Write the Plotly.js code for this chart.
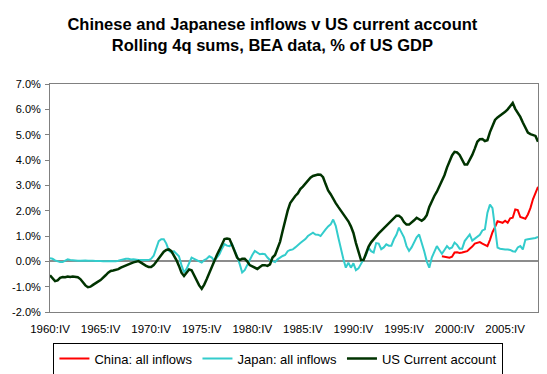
<!DOCTYPE html>
<html>
<head>
<meta charset="utf-8">
<script src="https://cdn.plot.ly/plotly-3.0.1.min.js"></script>
<style>html,body{margin:0;padding:0;background:#fff;}#chart{width:547px;height:374px;}</style>
</head>
<body>
<div id="chart"></div>
<script>
// ---- DATA (% of US GDP) ----
var startYear = 1960, startQuarter = 4;          // first category: 1960:IV
var usCurrentAccount = [
 -0.55,-0.68,-0.78,-0.75,-0.65,-0.62,-0.63,-0.60,-0.62,-0.60,
 -0.62,-0.63,-0.70,-0.82,-0.95,-1.02,-1.00,-0.93,-0.88,-0.80,
 -0.74,-0.66,-0.55,-0.45,-0.38,-0.36,-0.34,-0.31,-0.25,-0.20,
 -0.15,-0.12,-0.08,-0.04,-0.01, 0.01,-0.05,-0.12,-0.18,-0.22,
 -0.22,-0.15,-0.02, 0.08, 0.25, 0.38, 0.45, 0.47, 0.40, 0.25,
  0.05,-0.18,-0.45,-0.58,-0.45,-0.32,-0.35,-0.55,-0.78,-0.95,
 -1.08,-0.92,-0.70,-0.45,-0.25, 0.00, 0.25, 0.45, 0.68, 0.88,
  0.90, 0.88, 0.65, 0.40, 0.15, 0.05, 0.10, 0.10, 0.00,-0.15,
 -0.20,-0.27,-0.30,-0.22,-0.15,-0.15,-0.18,-0.12, 0.15, 0.25,
  0.50, 0.78, 1.20, 1.62, 2.00, 2.30, 2.45, 2.58, 2.68, 2.85,
  2.95, 3.08, 3.20, 3.30, 3.37, 3.40, 3.43, 3.42, 3.32, 3.05,
  2.80, 2.65, 2.45, 2.30, 2.15, 2.00, 1.88, 1.75, 1.58, 1.38,
  1.12, 0.72, 0.35, 0.05, 0.05, 0.30, 0.58, 0.75, 0.88, 0.98,
  1.10, 1.20, 1.30, 1.40, 1.50, 1.60, 1.70, 1.80, 1.80, 1.72,
  1.55, 1.45, 1.45, 1.52, 1.62, 1.72, 1.65, 1.60, 1.68, 1.82,
  2.15, 2.40, 2.58, 2.75, 2.95, 3.15, 3.40, 3.70, 3.95, 4.18,
  4.32, 4.30, 4.20, 4.00, 3.82, 3.82, 4.00, 4.20, 4.45, 4.72,
  4.82, 4.83, 4.75, 4.78, 5.10, 5.35, 5.58, 5.68, 5.75, 5.80,
  5.90, 6.00, 6.12, 6.25, 6.02, 5.88, 5.70, 5.48, 5.28, 5.08,
  5.02, 5.00, 4.95, 4.72
];
var japanInflows = [
  0.12, 0.10, 0.04, 0.00,-0.03,-0.03, 0.02, 0.08, 0.05, 0.03,
  0.03, 0.02, 0.02, 0.03, 0.03, 0.02, 0.03, 0.02, 0.01, 0.02,
  0.01, 0.00,-0.01, 0.00, 0.01, 0.00, 0.00, 0.02, 0.05, 0.08,
  0.10, 0.10, 0.07, 0.08, 0.05, 0.05, 0.05, 0.06, 0.05, 0.05,
  0.10, 0.22, 0.50, 0.80, 0.87, 0.87, 0.70, 0.42, 0.35, 0.40,
  0.30, 0.20,-0.15,-0.44,-0.30,-0.10, 0.15, 0.10, 0.05,-0.02,
 -0.05, 0.05, 0.10, 0.20, 0.15, 0.02, 0.15, 0.28, 0.50, 0.68,
  0.62, 0.60, 0.68, 0.45, 0.20,-0.10,-0.44,-0.35,-0.15, 0.10,
  0.25, 0.41, 0.35, 0.28, 0.30, 0.28, 0.15, 0.05, 0.01,-0.03,
  0.08, 0.15, 0.21, 0.25, 0.40, 0.45, 0.47, 0.55, 0.65, 0.72,
  0.80, 0.88, 1.00, 1.08, 1.13, 1.06, 1.05, 1.00, 1.15, 1.26,
  1.38, 1.46, 1.65, 1.40, 0.95, 0.50, 0.10,-0.25,-0.05,-0.25,
 -0.08,-0.35,-0.28,-0.10, 0.05, 0.25, 0.54, 0.40, 0.35, 0.72,
  0.70, 0.48, 0.55, 0.67, 0.62, 0.62, 0.87, 1.05, 1.33, 1.15,
  0.95, 0.60, 0.41, 0.55, 0.75, 0.95, 1.06, 0.75, 0.40, 0.00,
 -0.25, 0.15, 0.35, 0.60, 0.45, 0.30, 0.45, 0.60, 0.50, 0.55,
  0.74, 0.65, 0.50, 0.50, 0.80, 0.95, 1.06, 0.82, 0.90, 1.00,
  1.05, 1.22, 1.26, 1.92, 2.24, 2.10, 1.40, 0.54, 0.50, 0.47,
  0.47, 0.47, 0.45, 0.40, 0.38, 0.55, 0.60, 0.47, 0.85, 0.87,
  0.88, 0.90, 0.92, 0.96
];
var chinaStart = '1999:III';
var chinaInflows = [
  0.20, 0.18, 0.15, 0.14, 0.18, 0.35, 0.36, 0.33, 0.35, 0.37,
  0.40, 0.50, 0.58, 0.70, 0.74, 0.76, 0.70, 0.65, 0.60, 0.85,
  1.15, 1.35, 1.58, 1.55, 1.52, 1.60, 1.52, 1.70, 1.72, 2.05,
  2.02, 1.75, 1.72, 1.68, 1.85, 2.10, 2.45, 2.70, 2.94
];
var xTickLabels = ['1960:IV','1965:IV','1970:IV','1975:IV','1980:IV',
                   '1985:IV','1990:IV','1995:IV','2000:IV','2005:IV'];
var yTickValues = [-2,-1,0,1,2,3,4,5,6,7];
var yTickLabels = ['-2.0%','-1.0%','0.0%','1.0%','2.0%','3.0%','4.0%','5.0%','6.0%','7.0%'];
var seriesNames = ['China: all inflows','Japan: all inflows','US Current account'];

// ---- categories (quarters) ----
var roman = ['I','II','III','IV'];
var quarters = [];
for (var i = 0; i < usCurrentAccount.length; i++) {
  var q = (startQuarter - 1) + i;
  quarters.push((startYear + Math.floor(q / 4)) + ':' + roman[q % 4]);
}
var idx = quarters.map(function(_, i){ return i; });
var c0 = quarters.indexOf(chinaStart);
var chinaIdx = chinaInflows.map(function(_, i){ return c0 + i; });
var xTickVals = xTickLabels.map(function(l){ return quarters.indexOf(l); });
var xRange = [0, quarters.length - 1];

var FONT = 'Arial, "Liberation Sans", sans-serif';
var traces = [
  {x: chinaIdx, y: chinaInflows, text: quarters.slice(c0), name: seriesNames[0], type: 'scatter', mode: 'lines',
   line: {color: '#ff0000', width: 2}},
  {x: idx, y: japanInflows, text: quarters, name: seriesNames[1], type: 'scatter', mode: 'lines',
   line: {color: '#33cccc', width: 2}},
  {x: idx, y: usCurrentAccount, text: quarters, name: seriesNames[2], type: 'scatter', mode: 'lines',
   line: {color: '#003300', width: 2.5}}
];

var layout = {
  width: 547, height: 374,
  margin: {l: 50, r: 9, t: 84, b: 62, pad: 0},
  paper_bgcolor: '#ffffff', plot_bgcolor: '#ffffff',
  font: {family: FONT, color: '#000000', size: 11},
  title: {
    text: '<b>Chinese and Japanese inflows v US current account</b><br><b>Rolling 4q sums, BEA data, % of US GDP</b>',
    font: {family: FONT, size: 16.5, color: '#000000'},
    x: 0.498, xref: 'container', xanchor: 'center',
    y: 0.920, yref: 'container', yanchor: 'middle'
  },
  xaxis: {
    range: xRange, showgrid: false, zeroline: false,
    showline: true, mirror: true, linecolor: '#808080', linewidth: 1,
    tickmode: 'array', tickvals: xTickVals, ticktext: xTickLabels,
    ticks: 'outside', ticklen: 6, tickcolor: 'rgba(0,0,0,0)',
    tickfont: {size: 11.5, family: FONT, color: '#000000'}
  },
  xaxis2: {
    range: xRange, overlaying: 'x', anchor: 'free', position: 2/9, side: 'bottom',
    showgrid: false, zeroline: false, showline: false, showticklabels: false,
    tickmode: 'array', tickvals: xTickVals, ticks: 'outside', ticklen: 5,
    tickcolor: '#808080', tickwidth: 1
  },
  yaxis: {
    range: [-2, 7], showgrid: false,
    zeroline: true, zerolinecolor: '#8c8c8c', zerolinewidth: 2,
    showline: true, mirror: true, linecolor: '#808080', linewidth: 1,
    tickmode: 'array', tickvals: yTickValues, ticktext: yTickLabels,
    ticks: 'outside', ticklen: 4, tickcolor: '#808080', ticklabelstandoff: 2,
    tickfont: {size: 11, family: FONT, color: '#000000'}
  },
  showlegend: true,
  legend: {
    orientation: 'h', traceorder: 'normal',
    xref: 'container', x: 0.509, xanchor: 'center',
    yref: 'container', y: 0.041, yanchor: 'middle',
    bordercolor: '#000000', borderwidth: 1, bgcolor: '#ffffff',
    font: {family: FONT, size: 13, color: '#000000'},
    itemwidth: 30, tracegroupgap: 0
  }
};

Plotly.newPlot('chart', traces, layout, {displayModeBar: false, staticPlot: true});
</script>
</body>
</html>
